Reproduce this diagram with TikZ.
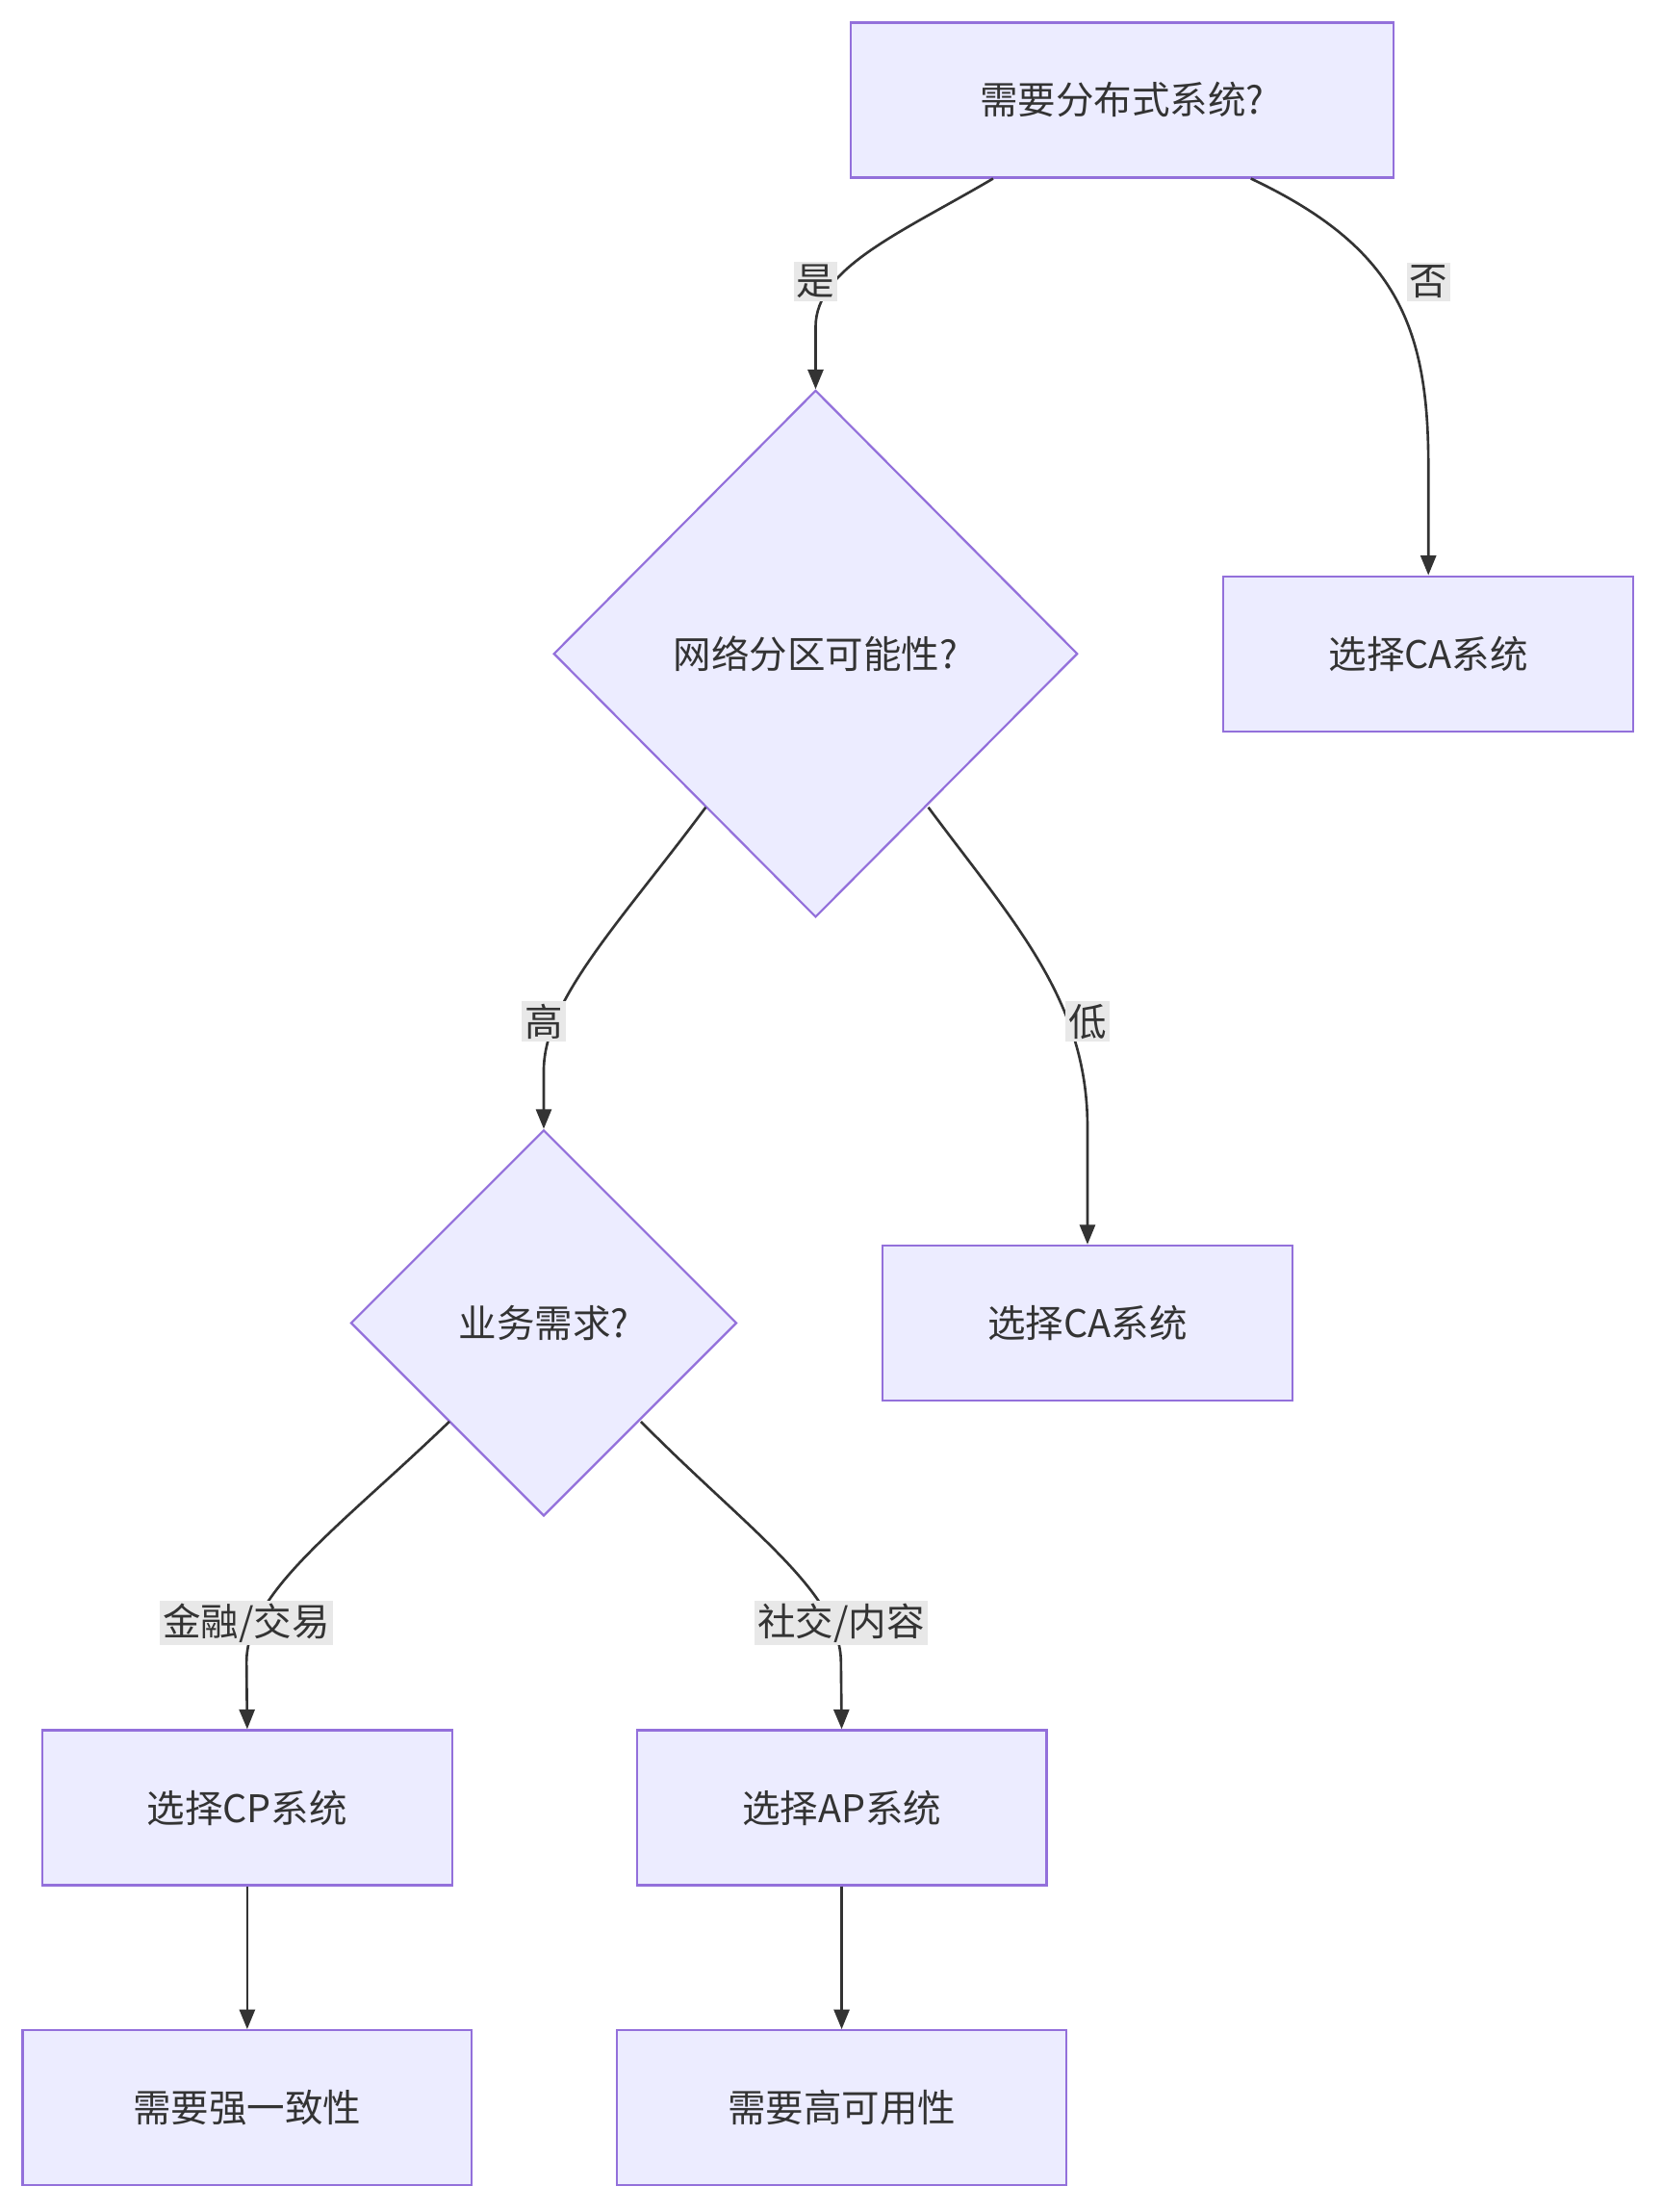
\documentclass[tikz,border=0pt]{standalone}
\usepackage{fontspec}
\setmainfont{Noto Sans CJK SC}
\usetikzlibrary{shapes.geometric,arrows.meta}
\definecolor{nodefill}{HTML}{ECECFF}
\definecolor{nodeline}{HTML}{9370DB}
\definecolor{edgecol}{HTML}{333333}
\definecolor{lblbg}{HTML}{E8E8E8}
\begin{document}
\begin{tikzpicture}[x=1pt,y=-1pt,
  box/.style={draw=nodeline,fill=nodefill,line width=1.5pt,minimum width=291pt,minimum height=110pt,font=\fontsize{27}{32}\selectfont,text=edgecol},
  dia/.style={draw=nodeline,fill=nodefill,line width=1.5pt,diamond,inner sep=0pt,font=\fontsize{27}{32}\selectfont,text=edgecol},
  arr/.style={draw=edgecol,line width=1.8pt,-{Triangle[length=14pt,width=11pt]}},
  lbl/.style={fill=lblbg,inner sep=2pt,font=\fontsize{27}{32}\selectfont,text=edgecol}]
\useasboundingbox[fill=white] (0,0) rectangle (1180,1570);

\node[box,minimum width=385pt] (q1) at (796.5,71) {需要分布式系统?};
\node[dia,minimum width=372pt,minimum height=374pt] (d1) at (579,464) {网络分区可能性?};
\node[box] (ca1) at (1014,464) {选择CA系统};
\node[dia,minimum width=274pt,minimum height=274pt] (d2) at (386,939) {业务需求?};
\node[box] (ca2) at (772,939) {选择CA系统};
\node[box] (cp) at (175.5,1283) {选择CP系统};
\node[box] (ap) at (597.5,1283) {选择AP系统};
\node[box,minimum width=319pt] (sc) at (175.5,1496) {需要强一致性};
\node[box,minimum width=319pt] (ha) at (597.5,1496) {需要高可用性};

\draw[arr] ([xshift=-91.5pt]q1.south) .. controls (640,165) and (579,190) .. (579,232) -- (d1.north);
\node[lbl] at (579,200) {是};
\draw[arr] ([xshift=91.5pt]q1.south) .. controls (990,175) and (1014,230) .. (1014,330) -- (ca1.north);
\node[lbl] at (1014,200) {否};
\draw[arr] ([shift={(-78pt,-109pt)}]d1.center) .. controls (440,655) and (386,710) .. (386,760) -- (d2.north);
\node[lbl] at (386,725) {高};
\draw[arr] ([shift={(80pt,-109pt)}]d1.center) .. controls (720,655) and (772,710) .. (772,800) -- (ca2.north);
\node[lbl] at (772,725) {低};
\draw[arr] ([shift={(-67pt,-70pt)}]d2.center) .. controls (240,1085) and (175,1130) .. (175,1180) -- (cp.north);
\node[lbl] at (175,1152) {金融/交易};
\draw[arr] ([shift={(69pt,-70pt)}]d2.center) .. controls (530,1085) and (597,1130) .. (597,1180) -- (ap.north);
\node[lbl] at (597,1152) {社交/内容};
\draw[arr] (cp) -- (sc);
\draw[arr] (ap) -- (ha);
\end{tikzpicture}
\end{document}
